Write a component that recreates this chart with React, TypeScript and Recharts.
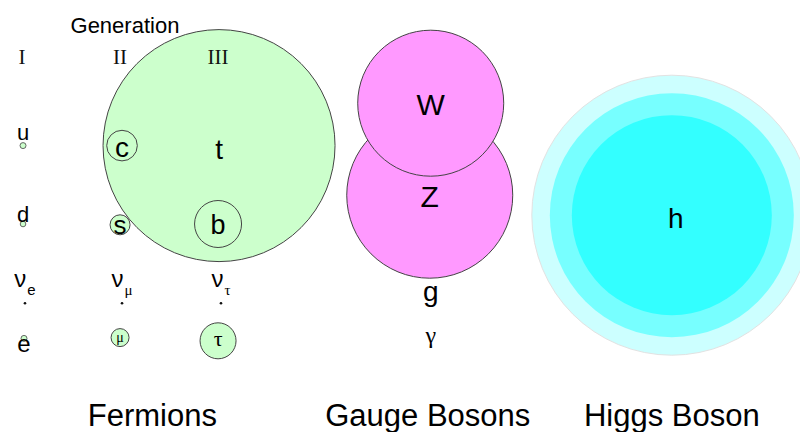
import { ScatterChart, Scatter, XAxis, YAxis, ZAxis, ReferenceDot } from "recharts";

// particle bubbles: column = generation / group position, row = vertical slot, radius = bubble size
const names = ["u", "d", "νe", "e", "c", "s", "νμ", "μ", "t", "b", "ντ", "τ", "Z", "W", "g", "γ"];
const families = [
  "fermion", "fermion", "fermion", "fermion",
  "fermion", "fermion", "fermion", "fermion",
  "fermion", "fermion", "fermion", "fermion",
  "boson", "boson", "boson", "boson",
];
const columns = [0.01, 0.01, 0.03, 0.02, 1.02, 1.0, 1.02, 1.0, 2.01, 2.0, 2.03, 2.0, 4.16, 4.17, 4.17, 4.17];
const rows = [1.02, 2.0, 2.99, 3.43, 1.02, 2.01, 2.99, 3.42, 1.02, 2.0, 2.99, 3.46, 1.64, 0.49, 2.9, 3.43];
const radii = [0.3, 0.28, 0.13, 0.3, 1.53, 1.0, 0.13, 0.9, 11.6, 2.35, 0.13, 1.8, 8.3, 7.3, 0, 0];

// higgs drawn as three nested bands
const higgsBands = [14.0, 12.2, 10.0];
const higgsColumn = 6.63;
const higgsRow = 1.89;

const generationTicks = [0, 1, 2];
const generationLabels = ["I", "II", "III"];
const groupTicks = [1.33, 4.14, 6.63];
const groupLabels = ["Fermions", "Gauge Bosons", "Higgs Boson"];

const SANS = "Liberation Sans, Arial, sans-serif";
const SERIF = "Liberation Serif, Times New Roman, serif";
const X_DOMAIN: [number, number] = [-0.225, 7.938];

const fills: Record<string, string> = {
  fermion: "#ccffcc",
  boson: "#ff99ff",
};
const higgsFills = ["#ccffff", "#77ffff", "#33ffff"];

// label placement (baseline offset from bubble centre)
const labelStyle: Record<string, { size: number; dy: number; serif?: boolean; sub?: string }> = {
  u: { size: 22, dy: -6 },
  d: { size: 22, dy: -2 },
  νe: { size: 24, dy: -16, sub: "e" },
  e: { size: 24, dy: 14 },
  c: { size: 28, dy: 11 },
  s: { size: 26, dy: 9 },
  νμ: { size: 24, dy: -16, sub: "μ" },
  μ: { size: 14, dy: 4, serif: true },
  t: { size: 28, dy: 13 },
  b: { size: 27, dy: 10 },
  ντ: { size: 24, dy: -16, sub: "τ" },
  τ: { size: 22, dy: 5, serif: true },
  Z: { size: 30, dy: 12 },
  W: { size: 30, dy: 12 },
  g: { size: 28, dy: 5 },
  γ: { size: 24, dy: 5, serif: true },
  h: { size: 28, dy: 13 },
};

const particleData = names
  .map((name, i) => ({
    name,
    family: families[i],
    x: columns[i],
    y: rows[i],
    area: radii[i] * radii[i],
  }))
  .sort((a, b) => b.area - a.area);

const higgsData = higgsBands.map((r, i) => ({
  name: i === higgsBands.length - 1 ? "h" : "",
  band: i,
  x: higgsColumn,
  y: higgsRow,
  area: r * r,
}));

function Label({ cx, cy, name }: { cx: number; cy: number; name: string }) {
  const st = labelStyle[name];
  if (!st) return null;
  const main = st.sub ? name.charAt(0) : name;
  return (
    <text
      x={cx}
      y={cy + st.dy}
      textAnchor="middle"
      fontFamily={st.serif ? SERIF : SANS}
      fontSize={st.size}
      fill="#000"
    >
      {main}
      {st.sub && (
        <tspan
          dx={1}
          dy={8}
          fontSize={15}
          fontFamily={st.sub === "e" ? SANS : SERIF}
        >
          {st.sub}
        </tspan>
      )}
    </text>
  );
}

function ParticleShape(props: any) {
  const { cx, cy, size, payload } = props;
  const r = Math.sqrt(Math.max(size || 0, 0) / Math.PI);
  const isNeutrino = payload.name.startsWith("ν");
  return (
    <g>
      {r > 0.5 && (
        <circle
          cx={cx}
          cy={cy}
          r={r}
          fill={isNeutrino ? "#111" : fills[payload.family]}
          stroke={isNeutrino ? "none" : "#444"}
          strokeWidth={r < 4 ? 0.8 : 1}
        />
      )}
      <Label cx={cx} cy={cy} name={payload.name} />
    </g>
  );
}

function HiggsShape(props: any) {
  const { cx, cy, size, payload } = props;
  const r = Math.sqrt(Math.max(size || 0, 0) / Math.PI);
  return (
    <g>
      <circle
        cx={cx}
        cy={cy}
        r={r}
        fill={higgsFills[payload.band]}
        stroke={payload.band === 0 ? "#e2e2e2" : "none"}
        strokeWidth={1}
      />
      {payload.name && <Label cx={cx + 4} cy={cy} name={payload.name} />}
    </g>
  );
}

export default function App() {
  return (
    <div style={{ position: "absolute", left: 0, top: 0, background: "#fff" }}>
      <ScatterChart width={800} height={432} margin={{ top: 0, right: 0, bottom: 0, left: 0 }}>
        <XAxis
          xAxisId="gen"
          orientation="top"
          type="number"
          dataKey="x"
          domain={X_DOMAIN}
          allowDataOverflow
          ticks={generationTicks}
          tickFormatter={(v: number) => generationLabels[generationTicks.indexOf(v)] ?? ""}
          interval={0}
          height={64}
          tickSize={0}
          tickMargin={0}
          axisLine={false}
          tickLine={false}
          tick={{ fontFamily: SERIF, fontSize: 21, fill: "#111" }}
        />
        <XAxis
          xAxisId="group"
          orientation="bottom"
          type="number"
          dataKey="x"
          domain={X_DOMAIN}
          allowDataOverflow
          ticks={groupTicks}
          tickFormatter={(v: number) => groupLabels[groupTicks.indexOf(v)] ?? ""}
          interval={0}
          height={48}
          tickSize={0}
          tickMargin={20}
          axisLine={false}
          tickLine={false}
          tick={{ fontFamily: SANS, fontSize: 31, fill: "#000" }}
        />
        <YAxis type="number" dataKey="y" domain={[0, 4]} reversed hide />
        <ZAxis type="number" dataKey="area" domain={[0, 200]} range={[0, Math.PI * 100 * 200]} />
        <Scatter
          xAxisId="group"
          data={higgsData}
          shape={<HiggsShape />}
          isAnimationActive={false}
        />
        <Scatter
          xAxisId="gen"
          data={particleData}
          shape={<ParticleShape />}
          isAnimationActive={false}
        />
        <ReferenceDot
          xAxisId="gen"
          x={1.05}
          y={-0.48}
          r={0}
          ifOverflow="visible"
          fill="none"
          stroke="none"
          label={{ value: "Generation", position: "center", fontFamily: SANS, fontSize: 22, fill: "#000" }}
        />
      </ScatterChart>
    </div>
  );
}
